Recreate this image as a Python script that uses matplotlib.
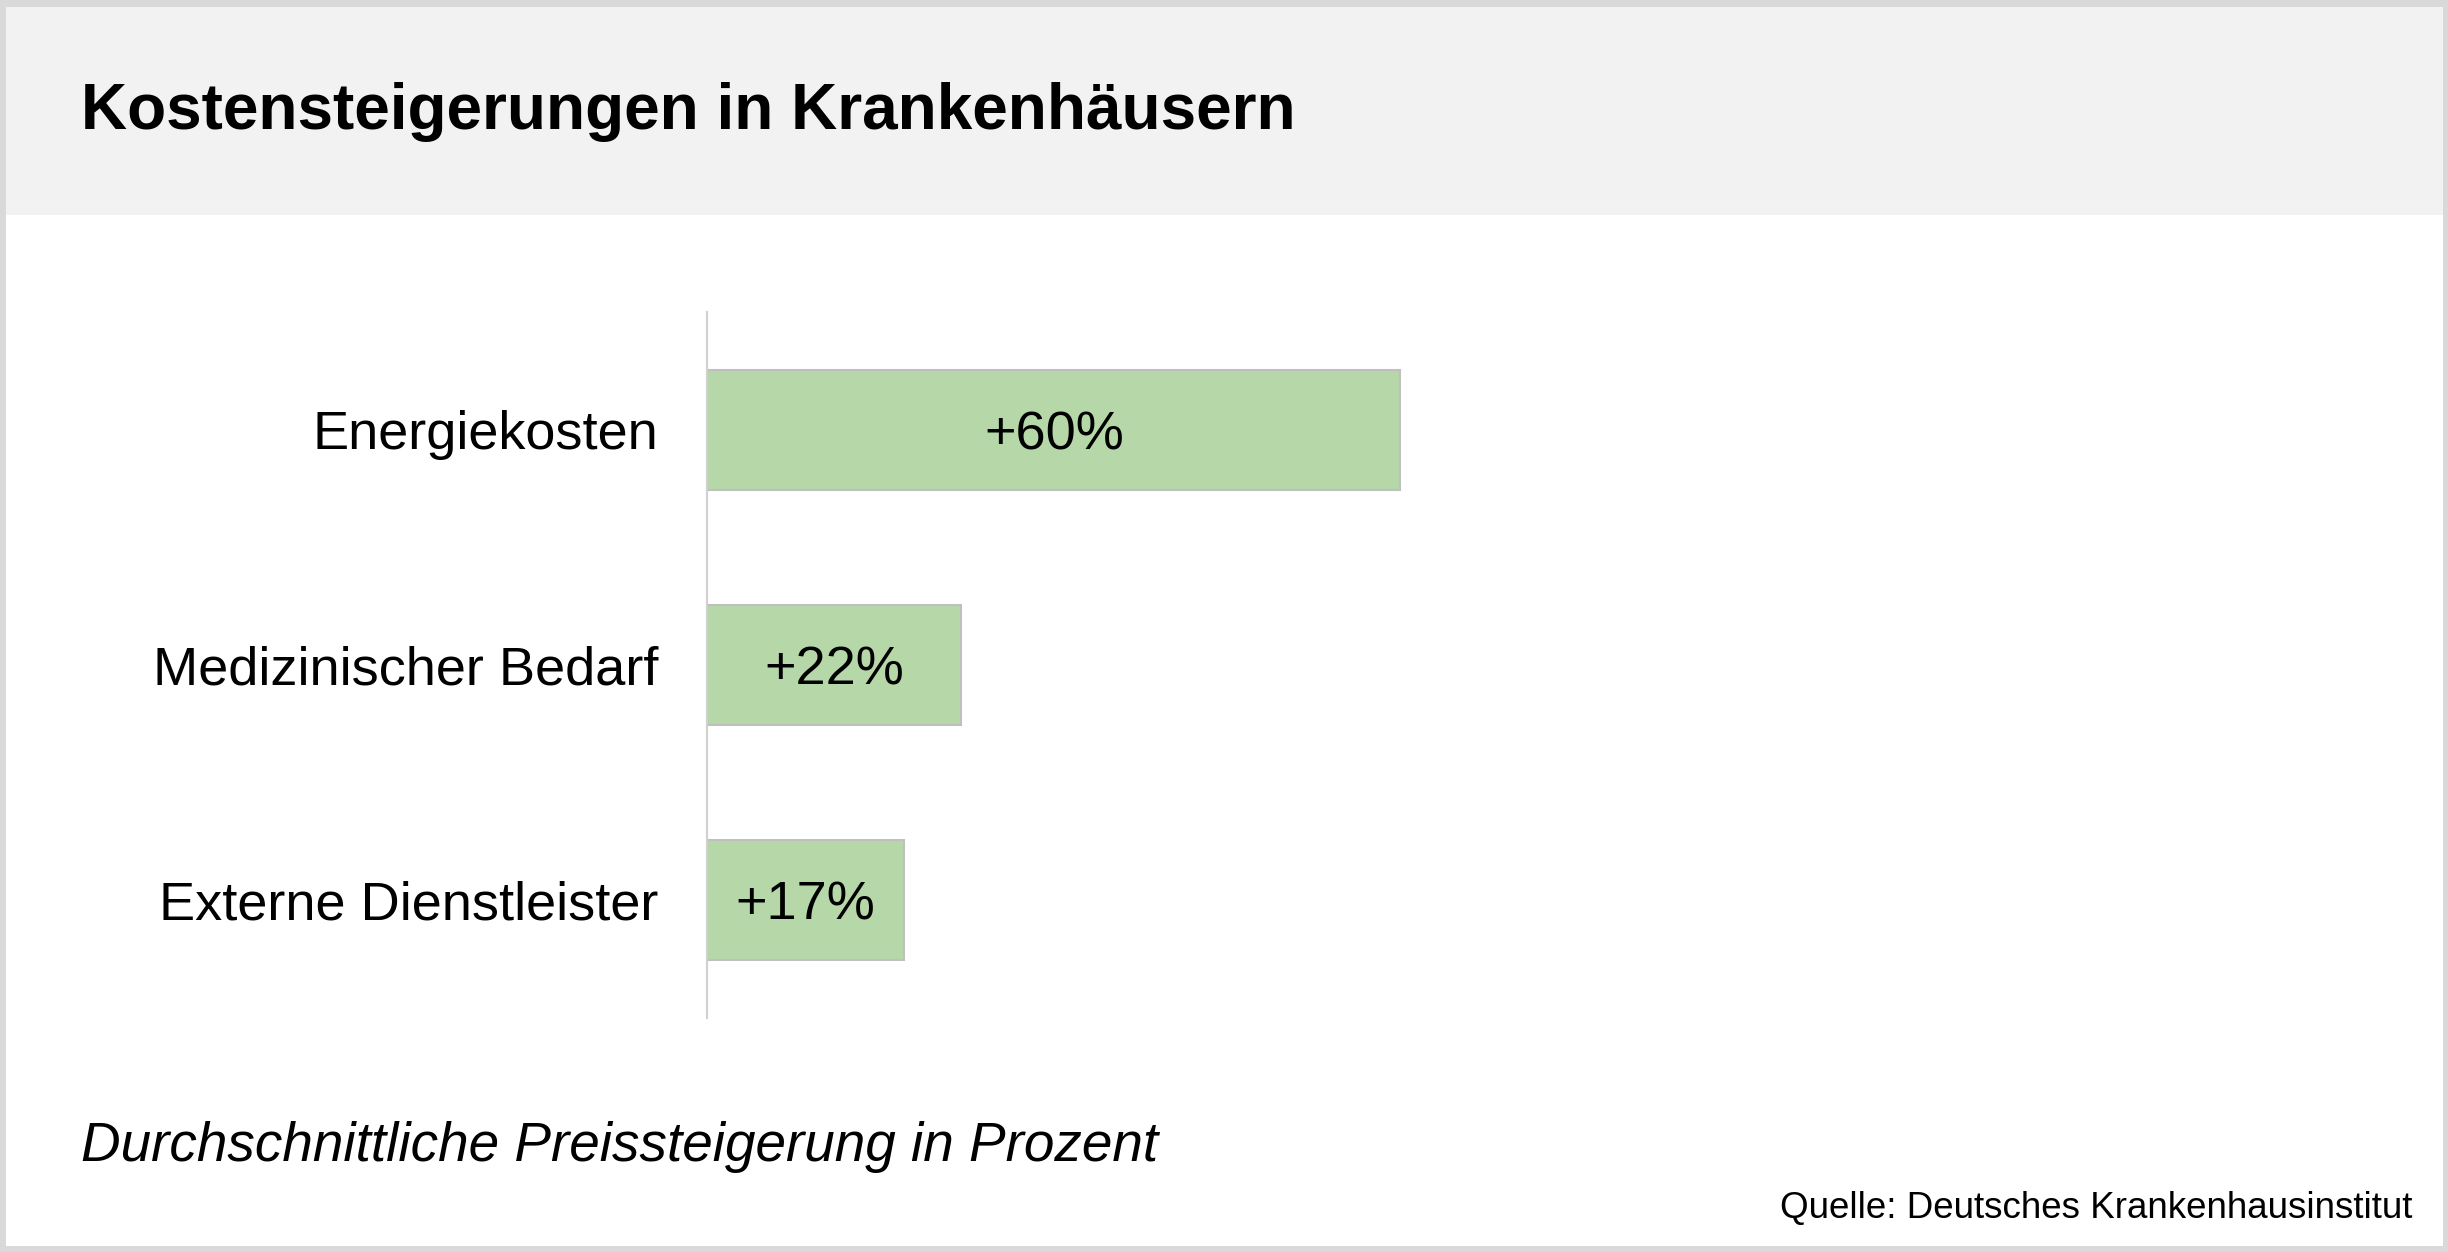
import matplotlib
matplotlib.use("Agg")
import matplotlib.pyplot as plt
from matplotlib.patches import Rectangle

categories = ["Energiekosten", "Medizinischer Bedarf", "Externe Dienstleister"]
values = [60, 22, 17]
labels = ["+60%", "+22%", "+17%"]

plt.rcParams['font.family'] = ['Liberation Sans', 'DejaVu Sans']
W, H = 1568, 802
fig = plt.figure(figsize=(24.48, 12.52), dpi=100)
fig.patches.append(Rectangle((0, 1 - 138 / H), 1, 138 / H, transform=fig.transFigure,
                             facecolor="#f2f2f2", edgecolor="none", zorder=0))
fig.patches.append(Rectangle((0.001, 0.002), 0.998, 0.996, transform=fig.transFigure,
                             facecolor="none", edgecolor="#d9d9d9", linewidth=5, zorder=5))

left = 453 / W
right = 1545 / W
ax = fig.add_axes([left, 1 - 652 / H, right - left, 452 / H])
ypos = list(range(len(categories)))
ax.barh(ypos, values, height=0.51, color="#b6d7a8", edgecolor="#bfbfbf", linewidth=1.5)
ax.set_xlim(0, (1545 - 453) / 7.4)
ax.set_ylim(2.5, -0.5)
for y, v, l in zip(ypos, values, labels):
    ax.text(v / 2, y, l, ha="center", va="center_baseline", fontsize=39, color="black")
ax.set_yticks(ypos)
ax.set_yticklabels(categories, fontsize=39)
ax.tick_params(axis="y", length=0, pad=35)
ax.set_xticks([])
for s in ["top", "right", "bottom"]:
    ax.spines[s].set_visible(False)
ax.spines["left"].set_color("#d0d0d0")
ax.spines["left"].set_linewidth(1.5)
ax.set_facecolor("none")

fig.text(52 / W, 1 - 72 / H, "Kostensteigerungen in Krankenhäusern", fontsize=46,
         fontweight="bold", va="center", ha="left")
fig.text(52 / W, 1 - 735 / H, "Durchschnittliche Preissteigerung in Prozent", fontsize=39.5,
         style="italic", va="center", ha="left")
fig.text(1545 / W, 1 - 774 / H, "Quelle: Deutsches Krankenhausinstitut", fontsize=26.5,
         va="center", ha="right")
fig.savefig("out.png", dpi=100, facecolor="white")
